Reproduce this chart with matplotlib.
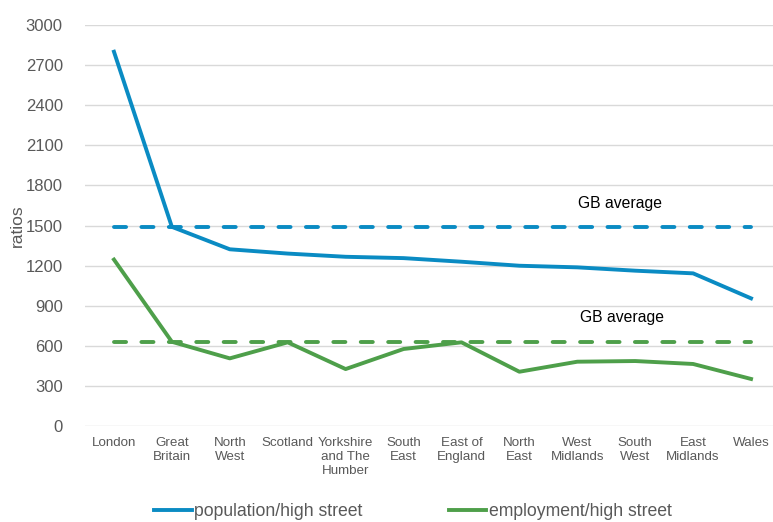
import numpy as np
import matplotlib.pyplot as plt
from matplotlib.lines import Line2D

plt.rcParams['font.family'] = ['Liberation Sans', 'DejaVu Sans']

regions = ['London', 'Great\nBritain', 'North\nWest', 'Scotland', 'Yorkshire\nand The\nHumber',
           'South\nEast', 'East of\nEngland', 'North\nEast', 'West\nMidlands', 'South\nWest',
           'East\nMidlands', 'Wales']
pop_per_street = [2800, 1490, 1322, 1290, 1266, 1256, 1229, 1199, 1187, 1162, 1142, 955]
emp_per_street = [1245, 630, 506, 626, 426, 576, 626, 406, 481, 486, 464, 352]
gb_pop = 1490
gb_emp = 630
yticks = np.arange(0, 3001, 300)

blue = '#0a8bc3'
green = '#4e9f4a'
grey = '#595959'
lw = 2.8

fig = plt.figure(figsize=(7.73, 5.22), dpi=100)
ax = fig.add_axes([85 / 773, 1 - 426 / 522, 695 / 773, 401 / 522])

x = np.arange(len(regions))
ax.plot(x, pop_per_street, color=blue, lw=lw)
ax.plot(x, emp_per_street, color=green, lw=lw)
# GB averages as dashed reference lines
ax.plot(x, [gb_pop] * len(x), color=blue, lw=lw, dashes=(3.1, 3.95), dash_capstyle='round')
ax.plot(x, [gb_emp] * len(x), color=green, lw=lw, dashes=(3.1, 3.95), dash_capstyle='round')

ax.text(8.74, 1668, 'GB average', ha='center', va='center', fontsize=11.3, color='black')
ax.text(8.77, 815, 'GB average', ha='center', va='center', fontsize=11.3, color='black')

ax.set_xlim(-0.5, len(regions) - 0.5)
ax.set_ylim(0, 3000)
ax.set_yticks(yticks)
ax.set_yticklabels([str(v) for v in yticks], fontsize=12, color=grey)
ax.set_xticks(x)
ax.set_xticklabels(regions, fontsize=9.6, color=grey, linespacing=1.2)
ax.tick_params(axis='both', length=0)
ax.tick_params(axis='y', pad=16)
ax.tick_params(axis='x', pad=8)
ax.grid(axis='y', color='#d9d9d9', lw=1)
ax.set_axisbelow(True)
for s in ax.spines.values():
    s.set_visible(False)

ax.set_ylabel('ratios', fontsize=12.5, color=grey)
ax.yaxis.set_label_coords(-60 / 695, 0.5)

handles = [Line2D([], [], color=blue, lw=lw), Line2D([], [], color=green, lw=lw)]
fig.legend(handles, ['population/high street', 'employment/high street'],
           loc='center', bbox_to_anchor=(413 / 773, 1 - 512 / 522), ncol=2, frameon=False,
           fontsize=12.7, handlelength=2.1, handletextpad=0.15, columnspacing=4.9,
           labelcolor=grey)

fig.savefig('out.png', dpi=100)
